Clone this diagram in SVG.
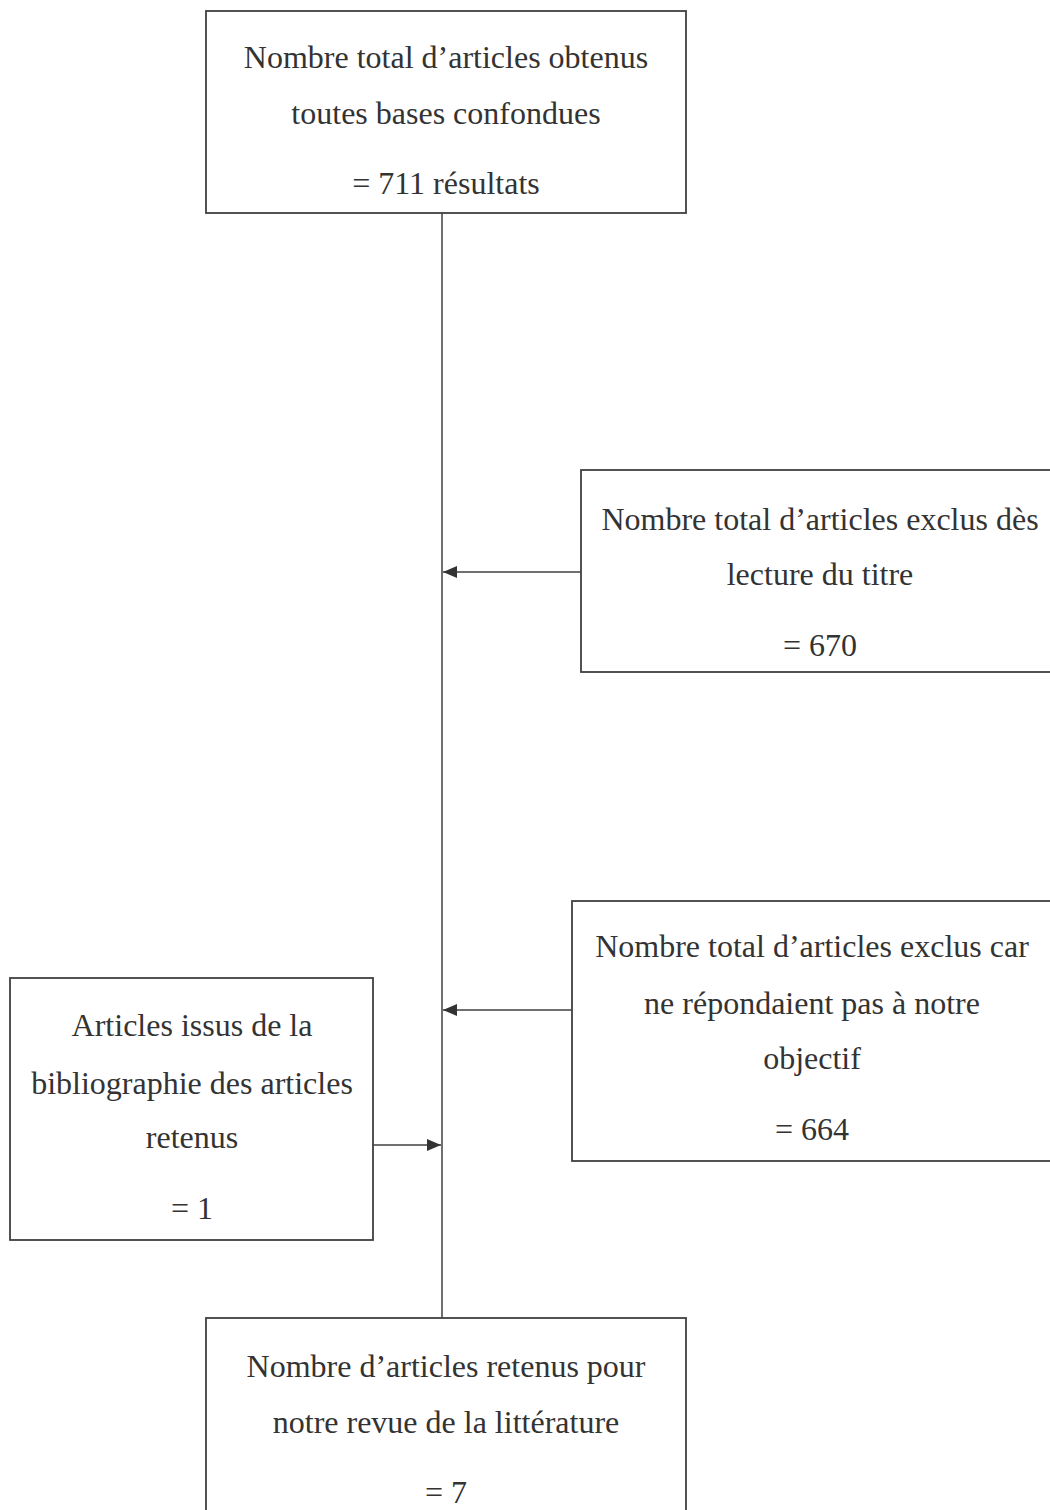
<svg xmlns="http://www.w3.org/2000/svg" width="1050" height="1510" viewBox="0 0 1050 1510">
<style>
.box{fill:#fff;stroke:#404040;stroke-width:1.8}
.t{font-family:"Liberation Serif","Times New Roman",serif;font-size:32px;fill:#333;text-anchor:middle}
.ln{stroke:#404040;stroke-width:1.5;fill:none}
</style>
<defs>
<marker id="ah" viewBox="0 0 14 12" refX="14" refY="6" markerWidth="14" markerHeight="12" markerUnits="userSpaceOnUse" orient="auto">
<path d="M0,0 L14,6 L0,12 z" fill="#333"/>
</marker>
</defs>
<rect width="1050" height="1510" fill="#fff"/>
<g id="connectors">
<line class="ln" x1="442" y1="213" x2="442" y2="1318"/>
<line class="ln" x1="581" y1="572" x2="443" y2="572" marker-end="url(#ah)"/>
<line class="ln" x1="572" y1="1010" x2="443" y2="1010" marker-end="url(#ah)"/>
<line class="ln" x1="373" y1="1145" x2="441" y2="1145" marker-end="url(#ah)"/>
</g>
<g id="n1">
<rect class="box" x="206" y="11" width="480" height="202"/>
<text class="t" x="446" y="68">Nombre total d’articles obtenus</text>
<text class="t" x="446" y="124">toutes bases confondues</text>
<text class="t" x="446" y="194">= 711 résultats</text>
</g>
<g id="n2">
<rect class="box" x="581" y="470" width="480" height="202"/>
<text class="t" x="820" y="530">Nombre total d’articles exclus dès</text>
<text class="t" x="820" y="585">lecture du titre</text>
<text class="t" x="820" y="656">= 670</text>
</g>
<g id="n3">
<rect class="box" x="572" y="901" width="490" height="260"/>
<text class="t" x="812" y="957">Nombre total d’articles exclus car</text>
<text class="t" x="812" y="1014">ne répondaient pas à notre</text>
<text class="t" x="812" y="1069">objectif</text>
<text class="t" x="812" y="1140">= 664</text>
</g>
<g id="n4">
<rect class="box" x="10" y="978" width="363" height="262"/>
<text class="t" x="192" y="1036">Articles issus de la</text>
<text class="t" x="192" y="1094">bibliographie des articles</text>
<text class="t" x="192" y="1148">retenus</text>
<text class="t" x="192" y="1219">= 1</text>
</g>
<g id="n5">
<rect class="box" x="206" y="1318" width="480" height="210"/>
<text class="t" x="446" y="1377">Nombre d’articles retenus pour</text>
<text class="t" x="446" y="1433">notre revue de la littérature</text>
<text class="t" x="446" y="1503">= 7</text>
</g>
</svg>
